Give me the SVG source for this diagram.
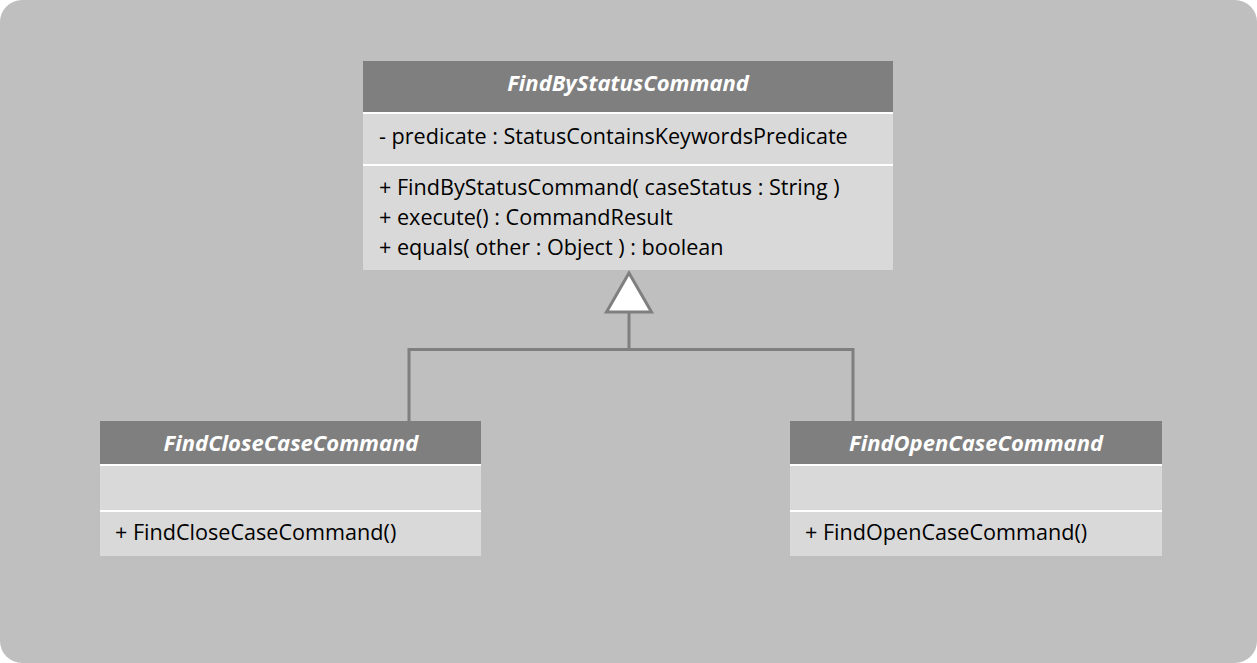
<svg xmlns="http://www.w3.org/2000/svg" width="1257" height="663" viewBox="0 0 1257 663">
  <style>
    .hdr { fill: #7f7f7f; }
    .body { fill: #d9d9d9; }
    .sep { stroke: #ffffff; stroke-width: 2; }
    .title { font-family: "Open Sans", "Liberation Sans", sans-serif; font-size: 22px; font-weight: bold; font-style: italic; fill: #ffffff; text-anchor: middle; }
    .member { font-family: "Open Sans", "Liberation Sans", sans-serif; font-size: 21.6px; fill: #000000; }
    .conn { fill: none; stroke: #7f7f7f; stroke-width: 3; }
  </style>
  <rect x="0" y="0" width="1257" height="663" fill="#ffffff"/>
  <rect x="0" y="0" width="1257" height="663" rx="22" ry="22" fill="#bfbfbf"/>

  <g id="connectors">
    <polyline class="conn" points="409,421 409,349.5 853,349.5 853,421"/>
    <line class="conn" x1="629" y1="313" x2="629" y2="349.5"/>
    <polygon points="629,273 606.5,312 651.5,312" fill="#ffffff" stroke="#7f7f7f" stroke-width="3"/>
  </g>

  <g id="FindByStatusCommand">
    <rect class="hdr" x="363" y="61" width="530" height="51"/>
    <rect class="body" x="363" y="112" width="530" height="158"/>
    <line class="sep" x1="363" y1="113" x2="893" y2="113"/>
    <line class="sep" x1="363" y1="165" x2="893" y2="165"/>
    <text class="title" x="628" y="91">FindByStatusCommand</text>
    <text class="member" x="379" y="144">- predicate : StatusContainsKeywordsPredicate</text>
    <text class="member" x="379" y="195">+ FindByStatusCommand( caseStatus : String )</text>
    <text class="member" x="379" y="225">+ execute() : CommandResult</text>
    <text class="member" x="379" y="255">+ equals( other : Object ) : boolean</text>
  </g>

  <g id="FindCloseCaseCommand">
    <rect class="hdr" x="100" y="421" width="381" height="44"/>
    <rect class="body" x="100" y="465" width="381" height="91"/>
    <line class="sep" x1="100" y1="465" x2="481" y2="465"/>
    <line class="sep" x1="100" y1="511" x2="481" y2="511"/>
    <text class="title" x="291" y="451">FindCloseCaseCommand</text>
    <text class="member" x="115" y="540">+ FindCloseCaseCommand()</text>
  </g>

  <g id="FindOpenCaseCommand">
    <rect class="hdr" x="790" y="421" width="372" height="44"/>
    <rect class="body" x="790" y="465" width="372" height="91"/>
    <line class="sep" x1="790" y1="465" x2="1162" y2="465"/>
    <line class="sep" x1="790" y1="511" x2="1162" y2="511"/>
    <text class="title" x="976" y="451">FindOpenCaseCommand</text>
    <text class="member" x="805" y="540">+ FindOpenCaseCommand()</text>
  </g>
</svg>
